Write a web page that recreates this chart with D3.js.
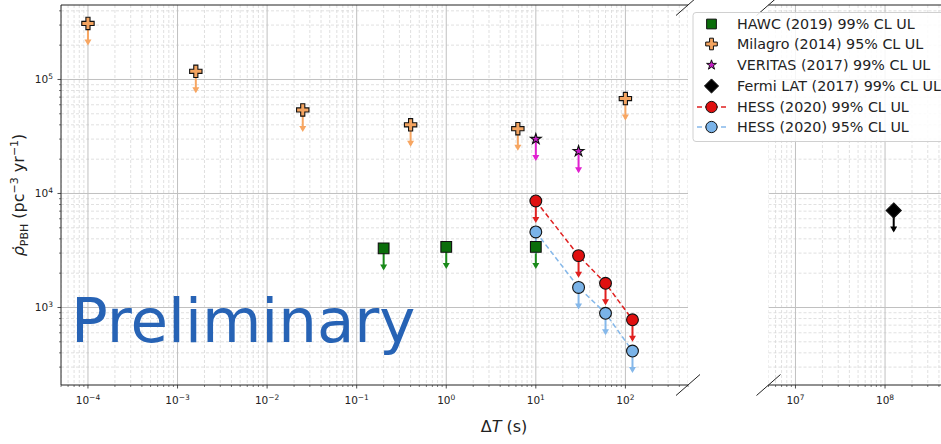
<!DOCTYPE html>
<html><head><meta charset="utf-8">
<script src="https://cdn.jsdelivr.net/npm/d3@7"></script>
<style>body{margin:0;background:#fff}svg{display:block;font-family:"DejaVu Sans",sans-serif}</style>
</head><body>
<svg id="c" width="941" height="444"></svg>
<script>
// ---- data ----
const milagroX = [1e-4, 1.6e-3, 0.025, 0.4, 6.3, 100];
const milagroY = [3.1e5, 1.18e5, 5.4e4, 4.0e4, 3.7e4, 6.8e4];
const hawcX = [0.2, 1, 10];
const hawcY = [3.3e3, 3.4e3, 3.4e3];
const veritasX = [10, 30];
const veritasY = [3.0e4, 2.35e4];
const fermiX = [1.25e8];
const fermiY = [7.1e3];
const hessX = [10, 30, 60, 120];
const hess99Y = [8.6e3, 2.85e3, 1.63e3, 780];
const hess95Y = [4.6e3, 1.5e3, 890, 415];
const legendLabels = ["HAWC (2019) 99% CL UL","Milagro (2014) 95% CL UL","VERITAS (2017) 99% CL UL","Fermi LAT (2017) 99% CL UL","HESS (2020) 99% CL UL","HESS (2020) 95% CL UL"];
const ulFactor = 0.654;

const svg = d3.select("#c");
const yTop = 5, yBot = 385;
const xL = d3.scaleLog().domain([5e-5, 500]).range([61, 688]);
const xR = d3.scaleLog().domain([5e6, 5e9]).range([768.5, 768.5 + 3*89.57]);
const y = d3.scaleLog().domain([209, 4.5e5]).range([yBot, yTop]);

function decadesAndMinor(dom){
  const lo = Math.floor(Math.log10(dom[0])), hi = Math.ceil(Math.log10(dom[1]));
  const maj = [], min = [];
  for (let e = lo; e <= hi; e++) {
    const b = Math.pow(10, e);
    if (b >= dom[0] && b <= dom[1]) maj.push(b);
    for (let k = 2; k <= 9; k++) { const v = k*b; if (v >= dom[0] && v <= dom[1]) min.push(v); }
  }
  return {maj, min};
}
const yT = decadesAndMinor(y.domain());

function panel(x, x0, x1, clipId) {
  const xT = decadesAndMinor(x.domain());
  const g = svg.append("g");
  g.append("clipPath").attr("id", clipId).append("rect").attr("x", x0).attr("y", yTop).attr("width", x1-x0).attr("height", yBot-yTop);
  const grid = g.append("g").attr("clip-path", `url(#${clipId})`);
  grid.selectAll(".xm").data(xT.min).join("line").attr("x1", d=>x(d)).attr("x2", d=>x(d)).attr("y1", yTop).attr("y2", yBot)
    .attr("stroke", "#d8d8d8").attr("stroke-width", 0.8).attr("stroke-dasharray", "3,2");
  grid.selectAll(".ym").data(yT.min).join("line").attr("x1", x0).attr("x2", x1).attr("y1", d=>y(d)).attr("y2", d=>y(d))
    .attr("stroke", "#d8d8d8").attr("stroke-width", 0.8).attr("stroke-dasharray", "3,2");
  grid.selectAll(".xM").data(xT.maj).join("line").attr("x1", d=>x(d)).attr("x2", d=>x(d)).attr("y1", yTop).attr("y2", yBot)
    .attr("stroke", "#c0c0c0").attr("stroke-width", 1);
  grid.selectAll(".yM").data(yT.maj).join("line").attr("x1", x0).attr("x2", x1).attr("y1", d=>y(d)).attr("y2", d=>y(d))
    .attr("stroke", "#c0c0c0").attr("stroke-width", 1);
  const tk = g.append("g");
  tk.selectAll(".tM").data(xT.maj.filter(d=>x(d)<=x1)).join("line").attr("x1", d=>x(d)).attr("x2", d=>x(d)).attr("y1", yBot).attr("y2", yBot+3.5).attr("stroke", "#222").attr("stroke-width", 0.8);
  tk.selectAll(".tm").data(xT.min.filter(d=>x(d)<=x1)).join("line").attr("x1", d=>x(d)).attr("x2", d=>x(d)).attr("y1", yBot).attr("y2", yBot+2).attr("stroke", "#222").attr("stroke-width", 0.6);
  const lab = tk.selectAll(".tl").data(xT.maj.filter(d=>x(d)<=x1)).join("text")
    .attr("x", d=>x(d)).attr("y", 404).attr("text-anchor", "middle").attr("font-size", 10.5).attr("fill", "#222");
  lab.append("tspan").text("10");
  lab.append("tspan").attr("dy", -4.5).attr("font-size", 7.5).text(d => { const e = Math.round(Math.log10(d)); return e < 0 ? "\u2212" + (-e) : e; });
  return grid;
}

panel(xL, 61, 688, "clipL");
panel(xR, 768.5, 941, "clipR");

const sp = svg.append("g").attr("stroke", "#222").attr("stroke-width", 1);
sp.append("line").attr("x1", 61).attr("x2", 61).attr("y1", yTop).attr("y2", yBot);
sp.append("line").attr("x1", 61).attr("x2", 688).attr("y1", yBot).attr("y2", yBot);
sp.append("line").attr("x1", 61).attr("x2", 688).attr("y1", yTop).attr("y2", yTop);
sp.append("line").attr("x1", 768.5).attr("x2", 941).attr("y1", yBot).attr("y2", yBot);
sp.append("line").attr("x1", 768.5).attr("x2", 941).attr("y1", yTop).attr("y2", yTop);
[[688, yTop],[688, yBot],[768.5, yTop],[768.5, yBot]].forEach(([cx, cy]) => {
  sp.append("line").attr("x1", cx-12).attr("y1", cy+10.5).attr("x2", cx+12).attr("y2", cy-10.5).attr("stroke-width", 1);
});

const yt = svg.append("g");
yt.selectAll(".a").data(yT.maj).join("line").attr("x1", 61).attr("x2", 57.5).attr("y1", d=>y(d)).attr("y2", d=>y(d)).attr("stroke", "#222").attr("stroke-width", 0.8);
yt.selectAll(".b").data(yT.min).join("line").attr("x1", 61).attr("x2", 59).attr("y1", d=>y(d)).attr("y2", d=>y(d)).attr("stroke", "#222").attr("stroke-width", 0.6);
const yl = yt.selectAll(".c").data(yT.maj).join("text").attr("x", 53).attr("y", d=>y(d)+4).attr("text-anchor", "end").attr("font-size", 10.5).attr("fill", "#222");
yl.append("tspan").text("10");
yl.append("tspan").attr("dy", -4.5).attr("font-size", 7.5).text(d => Math.round(Math.log10(d)));

svg.append("text").attr("x", 71).attr("y", 342).attr("font-size", 61).attr("fill", "#2763b5").text("Preliminary");

const C = {hawc:"#0b6e0b", hawcA:"#1a8a1a", mil:"#f4a460", milA:"#f7a662", ver:"#c81bc8", verA:"#e020d0",
           r:"#e01010", rA:"#e02020", b:"#7ab3e8", bA:"#85b8ea"};
function arrows(g, x, xs, ys, color) {
  xs.forEach((xv, i) => {
    const x0 = x(xv), y0 = y(ys[i]), y1 = y(ys[i]*ulFactor);
    g.append("line").attr("x1", x0).attr("x2", x0).attr("y1", y0).attr("y2", y1-1).attr("stroke", color).attr("stroke-width", 2);
    g.append("path").attr("d", `M${x0-3.5},${y1-5}L${x0+3.5},${y1-5}L${x0},${y1+1}Z`).attr("fill", color);
  });
}
function markers(g, x, xs, ys, type, size, fill) {
  const sym = d3.symbol().type(type).size(size);
  xs.forEach((xv, i) => {
    g.append("path").attr("d", sym()).attr("transform", `translate(${x(xv)},${y(ys[i])})`)
      .attr("fill", fill).attr("stroke", "#111").attr("stroke-width", 1.1);
  });
}
const diamond = {draw(ctx, s){ const r = Math.sqrt(s)/2*1.414; ctx.moveTo(0,-r); ctx.lineTo(r,0); ctx.lineTo(0,r); ctx.lineTo(-r,0); ctx.closePath(); }};

const mL = svg.append("g").attr("clip-path", "url(#clipL)");
const line = d3.line().x(d=>xL(d[0])).y(d=>y(d[1]));
mL.append("path").attr("d", line(hessX.map((v,i)=>[v, hess99Y[i]]))).attr("fill","none").attr("stroke", C.rA).attr("stroke-width", 1.5).attr("stroke-dasharray", "5,3");
mL.append("path").attr("d", line(hessX.map((v,i)=>[v, hess95Y[i]]))).attr("fill","none").attr("stroke", C.bA).attr("stroke-width", 1.5).attr("stroke-dasharray", "5,3");
arrows(mL, xL, milagroX, milagroY, C.milA);
arrows(mL, xL, hawcX, hawcY, C.hawcA);
arrows(mL, xL, veritasX, veritasY, C.verA);
arrows(mL, xL, hessX, hess99Y, C.rA);
arrows(mL, xL, hessX, hess95Y, C.bA);
markers(mL, xL, milagroX, milagroY, d3.symbolCross, 85, C.mil);
markers(mL, xL, hawcX, hawcY, d3.symbolSquare, 115, C.hawc);
markers(mL, xL, veritasX, veritasY, d3.symbolStar, 36, C.ver);
markers(mL, xL, hessX, hess95Y, d3.symbolCircle, 110, C.b);
markers(mL, xL, hessX, hess99Y, d3.symbolCircle, 110, C.r);

const mR = svg.append("g").attr("clip-path", "url(#clipR)");
arrows(mR, xR, fermiX, fermiY, "#000");
markers(mR, xR, fermiX, fermiY, diamond, 113, "#000");

const lg = svg.append("g");
lg.append("rect").attr("x", 693).attr("y", 12.5).attr("width", 260).attr("height", 129).attr("rx", 3)
  .attr("fill", "#fff").attr("fill-opacity", 0.85).attr("stroke", "#d0d0d0").attr("stroke-width", 1);
const ly = [24, 44, 65, 86, 107, 127];
const lsym = [[d3.symbolSquare, 95, C.hawc],[d3.symbolCross, 75, C.mil],[d3.symbolStar, 30, C.ver],[diamond, 100, "#000"],[d3.symbolCircle, 100, C.r],[d3.symbolCircle, 100, C.b]];
legendLabels.forEach((t, i) => {
  if (i >= 4) {
    lg.append("line").attr("x1", 697).attr("x2", 726).attr("y1", ly[i]).attr("y2", ly[i]).attr("stroke", i===4?C.rA:C.bA).attr("stroke-width", 1.5).attr("stroke-dasharray", "5,3");
  }
  lg.append("path").attr("d", d3.symbol().type(lsym[i][0]).size(lsym[i][1])()).attr("transform", `translate(711.5,${ly[i]})`)
    .attr("fill", lsym[i][2]).attr("stroke", "#111").attr("stroke-width", 1);
  lg.append("text").attr("x", 737).attr("y", ly[i]+5).attr("font-size", 14.3).attr("fill", "#222").text(t);
});

const xl = svg.append("text").attr("x", 504).attr("y", 432).attr("text-anchor", "middle").attr("font-size", 16).attr("fill", "#222");
xl.append("tspan").text("\u0394");
xl.append("tspan").attr("font-style", "italic").text("T");
xl.append("tspan").text(" (s)");

const ylab = svg.append("text").attr("transform", "translate(24,195) rotate(-90)").attr("text-anchor", "middle").attr("font-size", 16).attr("fill", "#222");
ylab.append("tspan").attr("font-style", "italic").text("\u03C1\u0307");
ylab.append("tspan").attr("font-size", 11).attr("dy", 4).text("PBH");
ylab.append("tspan").attr("dy", -4).text(" (pc");
ylab.append("tspan").attr("font-size", 11).attr("dy", -6).text("\u22123");
ylab.append("tspan").attr("dy", 6).text(" yr");
ylab.append("tspan").attr("font-size", 11).attr("dy", -6).text("\u22121");
ylab.append("tspan").attr("dy", 6).text(")");
</script>
</body></html>
